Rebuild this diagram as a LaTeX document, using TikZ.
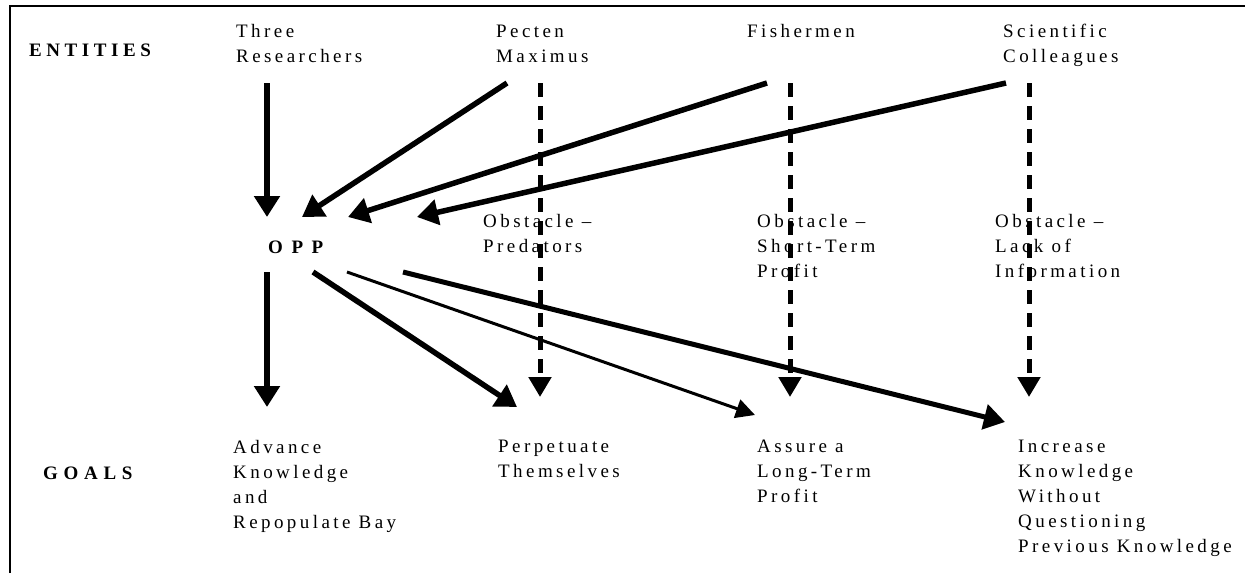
\documentclass[tikz,border=0pt]{standalone}
\usepackage{fontspec}
\setmainfont{Liberation Serif}[LetterSpace=18]
\usetikzlibrary{arrows.meta}
\begin{document}
\begin{tikzpicture}[x=1pt,y=-1pt,
  lab/.style={anchor=base west, inner sep=0pt, align=left, font=\fontsize{19}{25}\selectfont},
  hdr/.style={anchor=base west, inner sep=0pt, font=\fontsize{19}{25}\selectfont\bfseries\addfontfeature{LetterSpace=24}},
  arr/.style={line width=5.5pt, -{Triangle[length=21pt,width=25pt]}},
  thinarr/.style={line width=3pt, -{Triangle[length=19pt,width=19pt]}},
  dsh/.style={line width=5pt, dash pattern=on 14pt off 9pt, -{Triangle[length=20pt,width=22pt]}}]
\useasboundingbox (0,0) rectangle (1245,573);
\draw[line width=2.5pt] (10,573) -- (10,6) -- (1245,6);
% headers (anchor = baseline of last line)
\node[hdr] (ent) at (29,56) {ENTITIES};
\node[hdr, font=\fontsize{19}{25}\selectfont\bfseries\addfontfeature{LetterSpace=30}] (goals) at (43,479) {GOALS};
% entities
\node[lab] (tr) at (236,62) {Three\\Researchers};
\node[lab] (pm) at (496,62) {Pecten\\Maximus};
\node[lab] (fi) at (747,37) {Fishermen};
\node[lab] (sc) at (1003,62) {Scientific\\Colleagues};
% OPP
\node[hdr, font=\fontsize{19}{25}\selectfont\bfseries\addfontfeature{LetterSpace=45}] (opp) at (268,253) {OPP};
% obstacles
\node[lab] (o1) at (483,252) {Obstacle --\\Predators};
\node[lab] (o2) at (757,277) {Obstacle --\\Short-Term\\Profit};
\node[lab] (o3) at (995,277) {Obstacle --\\Lack of\\Information};
% goals
\node[lab] (g1) at (233,528) {Advance\\Knowledge\\and\\Repopulate Bay};
\node[lab] (g2) at (498,477) {Perpetuate\\Themselves};
\node[lab] (g3) at (757,502) {Assure a\\Long-Term\\Profit};
\node[lab] (g4) at (1018,552) {Increase\\Knowledge\\Without\\Questioning\\Previous Knowledge};
% connector end points
\coordinate (trs) at (267,83);
\coordinate (pms) at (507,83);
\coordinate (fis) at (767,83);
\coordinate (scs) at (1006,83);
\coordinate (oppin1) at (267,217);
\coordinate (oppin2) at (302,217);
\coordinate (oppin3) at (348,217);
\coordinate (oppin4) at (417,217);
\coordinate (pmd) at (540,83);
\coordinate (fid) at (790,83);
\coordinate (scd) at (1029,83);
\coordinate (g2d) at (540,397);
\coordinate (g3d) at (790,397);
\coordinate (g4d) at (1029,397);
\coordinate (oppo1) at (267,272);
\coordinate (oppo2) at (313,272);
\coordinate (oppo3) at (347,272);
\coordinate (oppo4) at (403,272);
\coordinate (g1in) at (267,407);
\coordinate (g2in) at (517,407);
\coordinate (g3in) at (755,415);
\coordinate (g4in) at (1005,422);
% arrows into OPP
\draw[arr] (trs) -- (oppin1);
\draw[arr] (pms) -- (oppin2);
\draw[arr] (fis) -- (oppin3);
\draw[arr] (scs) -- (oppin4);
% dashed obstacle arrows
\draw[dsh] (pmd) -- (g2d);
\draw[dsh] (fid) -- (g3d);
\draw[dsh] (scd) -- (g4d);
% arrows out of OPP
\draw[arr] (oppo1) -- (g1in);
\draw[arr] (oppo2) -- (g2in);
\draw[thinarr] (oppo3) -- (g3in);
\draw[arr, line width=5pt] (oppo4) -- (g4in);
\end{tikzpicture}
\end{document}
